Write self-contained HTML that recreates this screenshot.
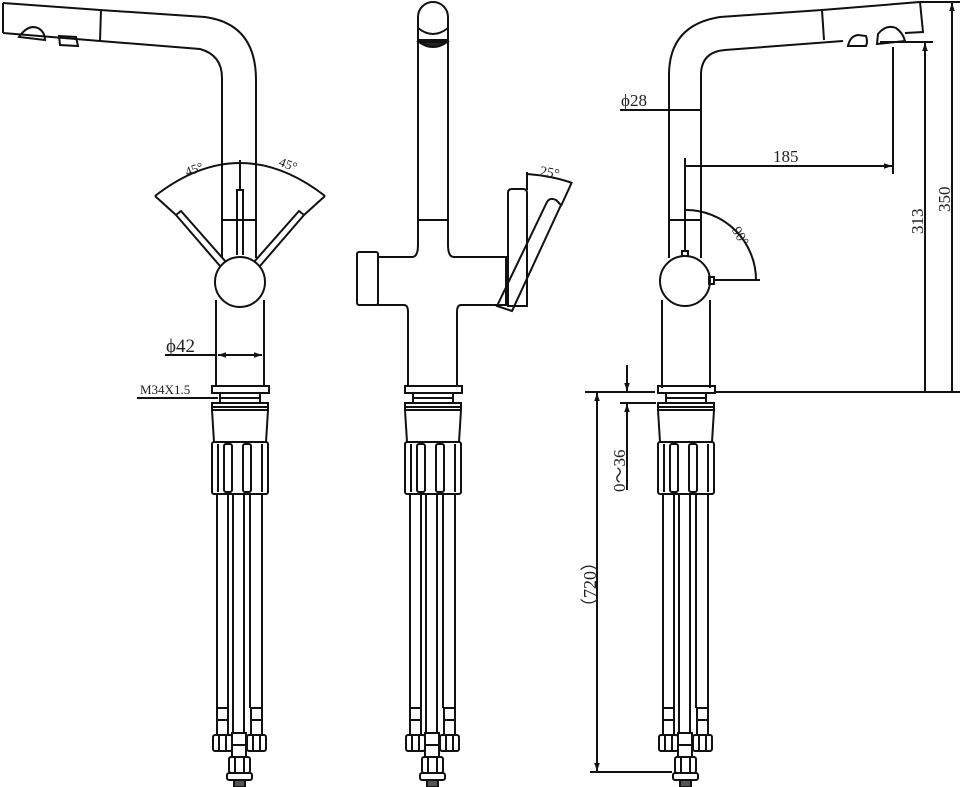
<!DOCTYPE html>
<html><head><meta charset="utf-8"><style>
html,body{margin:0;padding:0;background:#fff;}
svg{display:block}
text{font-family:"Liberation Serif",serif;fill:#222}
</style></head><body>
<svg width="960" height="787" viewBox="0 0 960 787" xmlns="http://www.w3.org/2000/svg">
<defs>
<marker id="ar" viewBox="0 0 10 10" refX="10" refY="5" markerWidth="12" markerHeight="8" orient="auto-start-reverse" markerUnits="userSpaceOnUse"><path d="M0,1.5 L10,5 L0,8.5 z" fill="#111"/></marker>
<g id="base" fill="none" stroke="#111" stroke-width="2">
  <rect x="212" y="386" width="57" height="7"/>
  <line x1="220" y1="393" x2="220" y2="403"/><line x1="260" y1="393" x2="260" y2="403"/>
  <line x1="220" y1="398" x2="260" y2="398"/>
  <rect x="212" y="403" width="56" height="4"/>
  <path d="M212,410 L268,410 L266,442 L214,442 Z"/>
  <line x1="212" y1="407" x2="212" y2="410"/><line x1="268" y1="407" x2="268" y2="410"/>
  <rect x="212" y="442" width="56" height="52" rx="2"/>
  <line x1="218" y1="444" x2="218" y2="492"/><line x1="262" y1="444" x2="262" y2="492"/>
  <rect x="224" y="444" width="8" height="48" rx="2"/>
  <rect x="243" y="444" width="8" height="48" rx="2"/>
  <line x1="217" y1="494" x2="217" y2="708"/><line x1="228" y1="494" x2="228" y2="708"/>
  <line x1="233" y1="494" x2="233" y2="733"/><line x1="244" y1="494" x2="244" y2="733"/>
  <line x1="250" y1="494" x2="250" y2="708"/><line x1="262" y1="494" x2="262" y2="708"/>
  <rect x="217" y="708" width="11" height="27"/><line x1="217" y1="720" x2="228" y2="720"/>
  <rect x="251" y="708" width="11" height="27"/><line x1="251" y1="720" x2="262" y2="720"/>
  <rect x="213" y="735" width="19" height="16" rx="2"/><line x1="219" y1="735" x2="219" y2="751"/><line x1="226" y1="735" x2="226" y2="751"/>
  <rect x="247" y="735" width="19" height="16" rx="2"/><line x1="253" y1="735" x2="253" y2="751"/><line x1="260" y1="735" x2="260" y2="751"/>
  <rect x="232" y="733" width="14" height="24"/><line x1="232" y1="745" x2="246" y2="745"/>
  <rect x="229" y="757" width="21" height="16" rx="2"/><line x1="235" y1="757" x2="235" y2="773"/><line x1="244" y1="757" x2="244" y2="773"/>
  <rect x="227" y="773" width="25" height="7" rx="2"/>
  <rect x="234" y="780" width="11" height="7" fill="#555"/>
</g>
</defs>

<use href="#base"/>
<use href="#base" transform="translate(193,0)"/>
<use href="#base" transform="translate(446,0)"/>

<!-- LEFT VIEW -->
<g fill="none" stroke="#111" stroke-width="2">
  <path d="M3,3 L100,10 L205,17 Q256,24 256,80 L256,258"/>
  <path d="M3,33 L100,41 L200,49 Q222,55 222,78 L222,258"/>
  <line x1="3" y1="3" x2="3" y2="33"/>
  <line x1="101" y1="10" x2="100" y2="41"/>
  <path d="M19,37 Q28,24 38,28 Q45,32 45,40 L19,37 Z"/>
  <path d="M59,36 L76,37 L78,46 L60,45 Z"/>
  <line x1="223" y1="220" x2="256" y2="220"/>
  <path d="M237,255 L237,190 L243,190 L243,255"/>
  <line x1="240" y1="160" x2="240" y2="190"/>
  <circle cx="240" cy="282" r="25"/>
  <path d="M216,300 L216,387 M264,300 L264,387"/>
  <path d="M155,196 Q240,130 325,196"/>
  <line x1="155" y1="196" x2="176" y2="215"/>
  <line x1="325" y1="196" x2="304" y2="215"/>
  <path d="M176,215 L181,211 L226,262 M176,215 L220,266"/>
  <path d="M304,215 L299,211 L254,262 M304,215 L260,266"/>
  <line x1="165" y1="355" x2="216" y2="355"/>
  <line x1="218" y1="355" x2="262" y2="355" marker-start="url(#ar)" marker-end="url(#ar)"/>
  <line x1="137" y1="398" x2="218" y2="398"/>
</g>
<text x="185" y="175" font-size="13" transform="rotate(-20 190 170)">45°</text>
<text x="277" y="168" font-size="13" transform="rotate(20 285 170)">45°</text>
<text x="166" y="352" font-size="19">ϕ42</text>
<text x="140" y="394" font-size="13">M34X1.5</text>

<!-- MIDDLE VIEW -->
<g fill="none" stroke="#111" stroke-width="2">
  <path d="M418,245 L418,17 A15,15 0 0 1 448,17 L448,245"/>
  <path d="M418,28 Q433,40 448,28"/>
  <path d="M419,40 L447,40"/>
  <path d="M419,42 Q433,52 447,42 Z" fill="#222"/>
  <line x1="418" y1="220" x2="448" y2="220"/>
  <path d="M418,245 Q418,257 412,257 L378,257 L378,305 L404,305 Q408,305 408,312 L408,386"/>
  <path d="M448,245 Q448,257 454,257 L506,257 L506,305 L461,305 Q457,305 457,312 L457,386"/>
  <rect x="357" y="252" width="21" height="53" rx="2"/>
  <path d="M508,306 L508,193 Q508,189 512,189 L523,189 Q527,189 527,193 L527,306 Z"/>
  <path d="M497,306 L547,202 Q550,197 556,200 L561,205 L512,311 Z"/>
  <line x1="527" y1="172" x2="527" y2="190"/>
  <path d="M527,174 Q553,176 572,183"/>
  <line x1="572" y1="182" x2="561" y2="206"/>
</g>
<text x="540" y="177" font-size="14" transform="rotate(10 550 172)">25°</text>

<!-- RIGHT VIEW -->
<g fill="none" stroke="#111" stroke-width="2">
  <path d="M669,258 L669,75 Q669,25 720,17 L822,10 L920,2 L923,32 L905,33"/>
  <path d="M701,258 L701,75 Q701,52 725,50 L843,41"/>
  <line x1="822" y1="10" x2="824" y2="40"/>
  <path d="M848,46 Q850,36 858,35 L866,36 Q868,42 866,46 Z"/>
  <path d="M877,44 L878,34 Q886,24 896,28 Q903,33 905,41 Z"/>
  <line x1="669" y1="220" x2="701" y2="220"/>
  <line x1="685" y1="158" x2="685" y2="252"/>
  <rect x="682" y="251" width="6" height="5"/>
  <circle cx="685" cy="281" r="25"/>
  <rect x="709" y="277" width="5" height="7"/>
  <line x1="714" y1="280" x2="760" y2="280"/>
  <path d="M686,210 A70,70 0 0 1 756,280"/>
  <path d="M662,300 L662,388 M710,300 L710,388"/>
  <line x1="620" y1="110" x2="701" y2="110"/>
  <line x1="686" y1="166" x2="892" y2="166" marker-end="url(#ar)"/>
  <line x1="893" y1="47" x2="893" y2="174"/>
  <line x1="880" y1="42" x2="933" y2="42"/>
  <line x1="925" y1="392" x2="925" y2="43" marker-end="url(#ar)"/>
  <line x1="920" y1="2" x2="960" y2="2"/>
  <line x1="952" y1="392" x2="952" y2="3" marker-end="url(#ar)"/>
  <line x1="585" y1="392" x2="655" y2="392"/>
  <line x1="715" y1="392" x2="960" y2="392"/>
  <line x1="620" y1="403" x2="656" y2="403"/>
  <line x1="627" y1="365" x2="627" y2="391" marker-end="url(#ar)"/>
  <line x1="627" y1="490" x2="627" y2="404" marker-end="url(#ar)"/>
  <line x1="597" y1="600" x2="597" y2="393" marker-end="url(#ar)"/>
  <line x1="597" y1="600" x2="597" y2="771" marker-end="url(#ar)"/>
  <line x1="590" y1="772" x2="672" y2="772"/>
</g>
<text x="621" y="106" font-size="17">ϕ28</text>
<text x="773" y="162" font-size="17">185</text>
<text x="735" y="240" font-size="14" transform="rotate(60 742 232)">90°</text>
<text font-size="17" transform="translate(923,234) rotate(-90)">313</text>
<text font-size="17" transform="translate(950,212) rotate(-90)">350</text>
<text font-size="17" transform="translate(625,492) rotate(-90)">0～36</text>
<text font-size="18" transform="translate(596,616) rotate(-90)">（720）</text>
</svg>
</body></html>
